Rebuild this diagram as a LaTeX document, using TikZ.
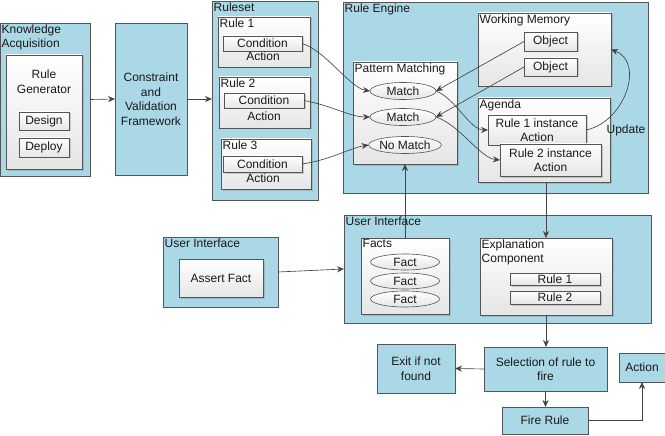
\documentclass[tikz,border=0pt]{standalone}
\usepackage{fontspec}
\setmainfont{Liberation Sans}
\usetikzlibrary{arrows.meta,shadows,shapes.geometric}
\definecolor{lblue}{RGB}{171,216,230}
\definecolor{edge}{RGB}{85,85,85}
\definecolor{ink}{RGB}{25,25,25}
\begin{document}
\begin{tikzpicture}[x=1pt,y=-1pt,
  font=\fontsize{12}{14.5}\selectfont, text=ink,
  bbox/.style={draw=edge, fill=lblue, line width=0.7pt, inner sep=0pt, outer sep=0pt, align=center},
  wbox/.style={draw=edge, top color=white, bottom color=black!10, line width=0.6pt, inner sep=0pt, outer sep=0pt, align=center,
    drop shadow={opacity=0.35,shadow xshift=1.5pt,shadow yshift=-1.5pt}},
  ebox/.style={ellipse, draw=edge, top color=white, bottom color=black!10, line width=0.6pt, inner sep=0pt, outer sep=0pt},
  ttl/.style={anchor=north west, inner sep=1.5pt, align=left},
  txt/.style={inner sep=0pt, align=center},
  arr/.style={draw=edge!80!black, line width=0.65pt, -{Stealth[length=7pt,width=6pt]}}]
\useasboundingbox (0,0) rectangle (665,436);

% Knowledge acquisition
\node[bbox, minimum width=90pt, minimum height=153pt, label={[ttl]north west:{Knowledge\\Acquisition}}] (ka) at (45,99.5) {};
\node[wbox, minimum width=76pt, minimum height=114pt] (rg) at (44,112) {};
\node[txt] (rgt) at (44,81.5) {Rule\\Generator};
\node[wbox, minimum width=50pt, minimum height=18pt] (design) at (44,121) {Design};
\node[wbox, minimum width=50pt, minimum height=19pt] (deploy) at (44,147.5) {Deploy};

% Constraint
\node[bbox, minimum width=72pt, minimum height=152pt] (cvf) at (151,99) {Constraint\\and\\Validation\\Framework};

% Ruleset
\node[bbox, minimum width=106pt, minimum height=199pt, label={[ttl]north west:Ruleset}] (rs) at (265,100.5) {};
\node[wbox, minimum width=92pt, minimum height=50pt, label={[ttl]north west:Rule 1}] (r1) at (264,42) {};
\node[wbox, minimum width=79pt, minimum height=15pt] (c1) at (262.5,43.5) {Condition};
\node[txt] (a1) at (263,56.5) {Action};
\node[wbox, minimum width=91pt, minimum height=51pt, label={[ttl]north west:Rule 2}] (r2) at (264.5,102.5) {};
\node[wbox, minimum width=80pt, minimum height=15pt] (c2) at (264,100.5) {Condition};
\node[txt] (a2) at (264,116) {Action};
\node[wbox, minimum width=90pt, minimum height=50pt, label={[ttl]north west:Rule 3}] (r3) at (266,164) {};
\node[wbox, minimum width=79pt, minimum height=16pt] (c3) at (262.5,164) {Condition};
\node[txt] (a3) at (263,178) {Action};

% Rule engine
\node[bbox, minimum width=305pt, minimum height=191pt, label={[ttl]north west:Rule Engine}] (re) at (495.5,97.5) {};
\node[wbox, minimum width=133pt, minimum height=73pt, label={[ttl]north west:Working Memory}] (wm) at (544.5,49.5) {};
\node[wbox, minimum width=53pt, minimum height=19pt] (o1) at (550.5,41.5) {Object};
\node[wbox, minimum width=53pt, minimum height=18pt] (o2) at (550.5,67) {Object};
\node[wbox, minimum width=104pt, minimum height=102pt, label={[ttl]north west:Pattern Matching}] (pm) at (405,113) {};
\node[ebox, minimum width=66pt, minimum height=17pt] (m1) at (403,91) {Match};
\node[ebox, minimum width=66pt, minimum height=17pt] (m2) at (403,117) {Match};
\node[ebox, minimum width=66pt, minimum height=17pt] (nm) at (405,145) {No Match};
\node[wbox, minimum width=132pt, minimum height=84pt, label={[ttl]north west:Agenda}] (ag) at (544,140) {};
\node[wbox, minimum width=98pt, minimum height=30pt] (r1i) at (537,130) {Rule 1 instance\\Action};
\node[wbox, minimum width=101pt, minimum height=32pt] (r2i) at (550.5,160) {Rule 2 instance\\Action};
\node[txt] (upd) at (626,130) {Update};

% User interface (left)
\node[bbox, minimum width=115pt, minimum height=70pt, label={[ttl]north west:User Interface}] (uil) at (220.5,272) {};
\node[wbox, minimum width=84pt, minimum height=38pt] (af) at (221,278) {Assert Fact};

% User interface (main)
\node[bbox, minimum width=307pt, minimum height=108pt, label={[ttl]north west:User Interface}] (uim) at (497.5,269) {};
\node[wbox, minimum width=88pt, minimum height=76pt, label={[ttl]north west:Facts}] (facts) at (405,276) {};
\node[ebox, minimum width=69pt, minimum height=16pt] (f1) at (405,262) {Fact};
\node[ebox, minimum width=69pt, minimum height=16pt] (f2) at (405,281) {Fact};
\node[ebox, minimum width=69pt, minimum height=16pt] (f3) at (405,299) {Fact};
\node[wbox, minimum width=132pt, minimum height=77pt, label={[ttl]north west:{Explanation\\Component}}] (ex) at (546,276.5) {};
\node[wbox, minimum width=90pt, minimum height=12pt] (er1) at (555,279) {Rule 1};
\node[wbox, minimum width=90pt, minimum height=13pt] (er2) at (555,297.5) {Rule 2};

% Bottom flow
\node[bbox, minimum width=123pt, minimum height=44pt] (sel) at (545.5,369) {Selection of rule to\\fire};
\node[bbox, minimum width=78pt, minimum height=49pt] (exit) at (416,368.5) {Exit if not\\found};
\node[bbox, minimum width=86pt, minimum height=27pt] (fire) at (545,420.5) {Fire Rule};
\node[bbox, minimum width=46pt, minimum height=29pt] (act) at (642,367.5) {Action};

% Connectors
\draw[arr] (ka.east) -- (cvf.west);
\draw[arr] (cvf.east) -- (cvf.east -| rs.west);
\draw[arr] (c1.east) .. controls (325,50) and (350,88) .. (m1.west);
\draw[arr] (c2.east) .. controls (330,105) and (350,117) .. (m2.west);
\draw[arr] (c3.east) .. controls (330,160) and (350,148) .. (nm.west);
\draw[arr] (o1.west) -- (m1.east);
\draw[arr] (o2.west) -- (m2.east);
\draw[arr] (m1.east) .. controls (455,98) and (470,130) .. (r1i.west);
\draw[arr] (m2.east) .. controls (460,125) and (480,158) .. (r2i.west);
\draw[arr] (r1i.east) .. controls (625,122) and (645,62) .. (wm.east);
\draw[arr] (facts.north) -- (pm.south);
\draw[arr] (ex.north |- ag.south) -- (ex.north);
\draw[arr] (uil.east) -- (uim.west);
\draw[arr] (ex.south) -- (ex.south |- sel.north);
\draw[arr] (sel.west) -- (exit.east);
\draw[arr] (sel.south) -- (sel.south |- fire.north);
\draw[arr] (fire.east) -| (act.south);
\end{tikzpicture}
\end{document}
